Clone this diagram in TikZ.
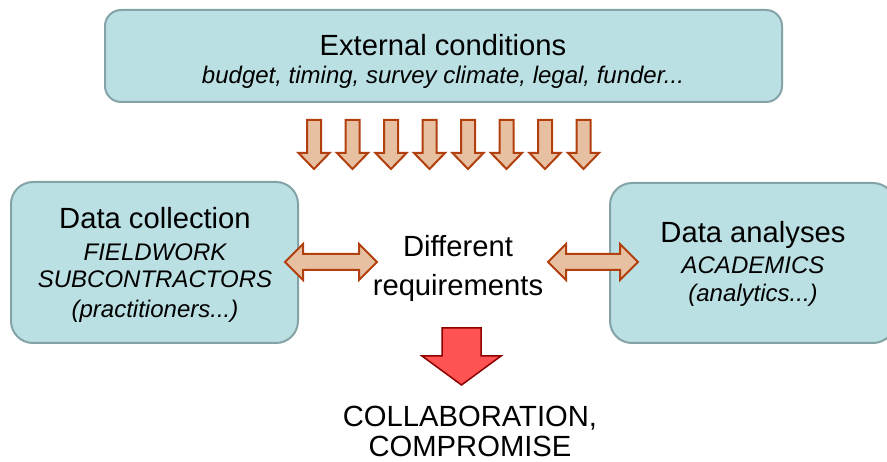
\documentclass[tikz,border=0pt]{standalone}
\usepackage{fontspec}
\setmainfont{Liberation Sans}
\usepackage{tikz}
\usetikzlibrary{positioning}
\definecolor{boxfill}{RGB}{187,224,227}
\definecolor{boxline}{RGB}{132,163,167}
\definecolor{peach}{RGB}{230,192,160}
\definecolor{rust}{RGB}{178,64,14}
\definecolor{redfill}{RGB}{255,82,82}
\definecolor{redline}{RGB}{140,0,0}
\newcommand{\maintxt}{\fontsize{29.2}{30}\selectfont}
\newcommand{\subtxt}{\fontsize{24}{28.5}\selectfont\itshape}

\begin{document}
\begin{tikzpicture}
  [x=1pt, y=-1pt,
  box/.style={draw=boxline, fill=boxfill, line width=2pt},
  label/.style={align=center, inner sep=0pt, font=\fontsize{24}{28.5}\selectfont},
  smallarrow/.style={draw=rust, fill=peach, line width=2pt},
  bigarrow/.style={draw=redline, fill=redfill, line width=1.5pt}]

\useasboundingbox (0,0) rectangle (887,462);
\clip (0,0) rectangle (887,462);

% Boxes
\node[box, rounded corners=16pt, minimum width=677pt, minimum height=92pt] (ext) at (443.5, 56) {};
\node[box, rounded corners=22pt, minimum width=287pt, minimum height=161pt] (coll) at (154.5, 262.5) {};
\node[box, rounded corners=22pt, minimum width=285pt, minimum height=160pt] (anal) at (752.5, 263) {};

% Texts
\node[label] (exttxt) at (443, 61.5) {\maintxt External conditions\\ \subtxt budget, timing, survey climate, legal, funder...};
\node[label] (colltxt) at (155, 265) {\maintxt Data collection\\[3pt] \subtxt FIELDWORK\\[-1pt] \subtxt SUBCONTRACTORS\\[1pt] \subtxt (practitioners...)};
\node[label] (analtxt) at (753, 264) {\maintxt Data analyses\\[2pt] \subtxt ACADEMICS\\ \subtxt (analytics...)};
\node[label] (req) at (458, 268.5) {\maintxt Different\\[10pt] \maintxt requirements};
\node[label] (res) at (470, 431.5) {\maintxt COLLABORATION,\\[2pt] \maintxt COMPROMISE};

% Arrows from external conditions
\foreach \x in {314, 352.5, 391, 429.5, 468, 506.5, 545, 583.5}
  \draw[smallarrow] (\x-7, 120) -- (\x+7, 120) -- (\x+7, 153) -- (\x+15.5, 153) -- (\x, 169)
    -- (\x-15.5, 153) -- (\x-7, 153) -- cycle;

% Double arrows to the requirements
\draw[smallarrow] (285, 262) -- (303, 244) -- (303, 254) -- (359, 254) -- (359, 244) -- (377, 262)
  -- (359, 280) -- (359, 270) -- (303, 270) -- (303, 280) -- cycle;
\draw[smallarrow] (548, 262) -- (566, 244) -- (566, 254) -- (620, 254) -- (620, 244) -- (638, 262)
  -- (620, 280) -- (620, 270) -- (566, 270) -- (566, 280) -- cycle;

% Result arrow
\draw[bigarrow] (442, 328) -- (481, 328) -- (481, 356) -- (501, 356) -- (461.5, 385)
  -- (422, 356) -- (442, 356) -- cycle;

\end{tikzpicture}
\end{document}
